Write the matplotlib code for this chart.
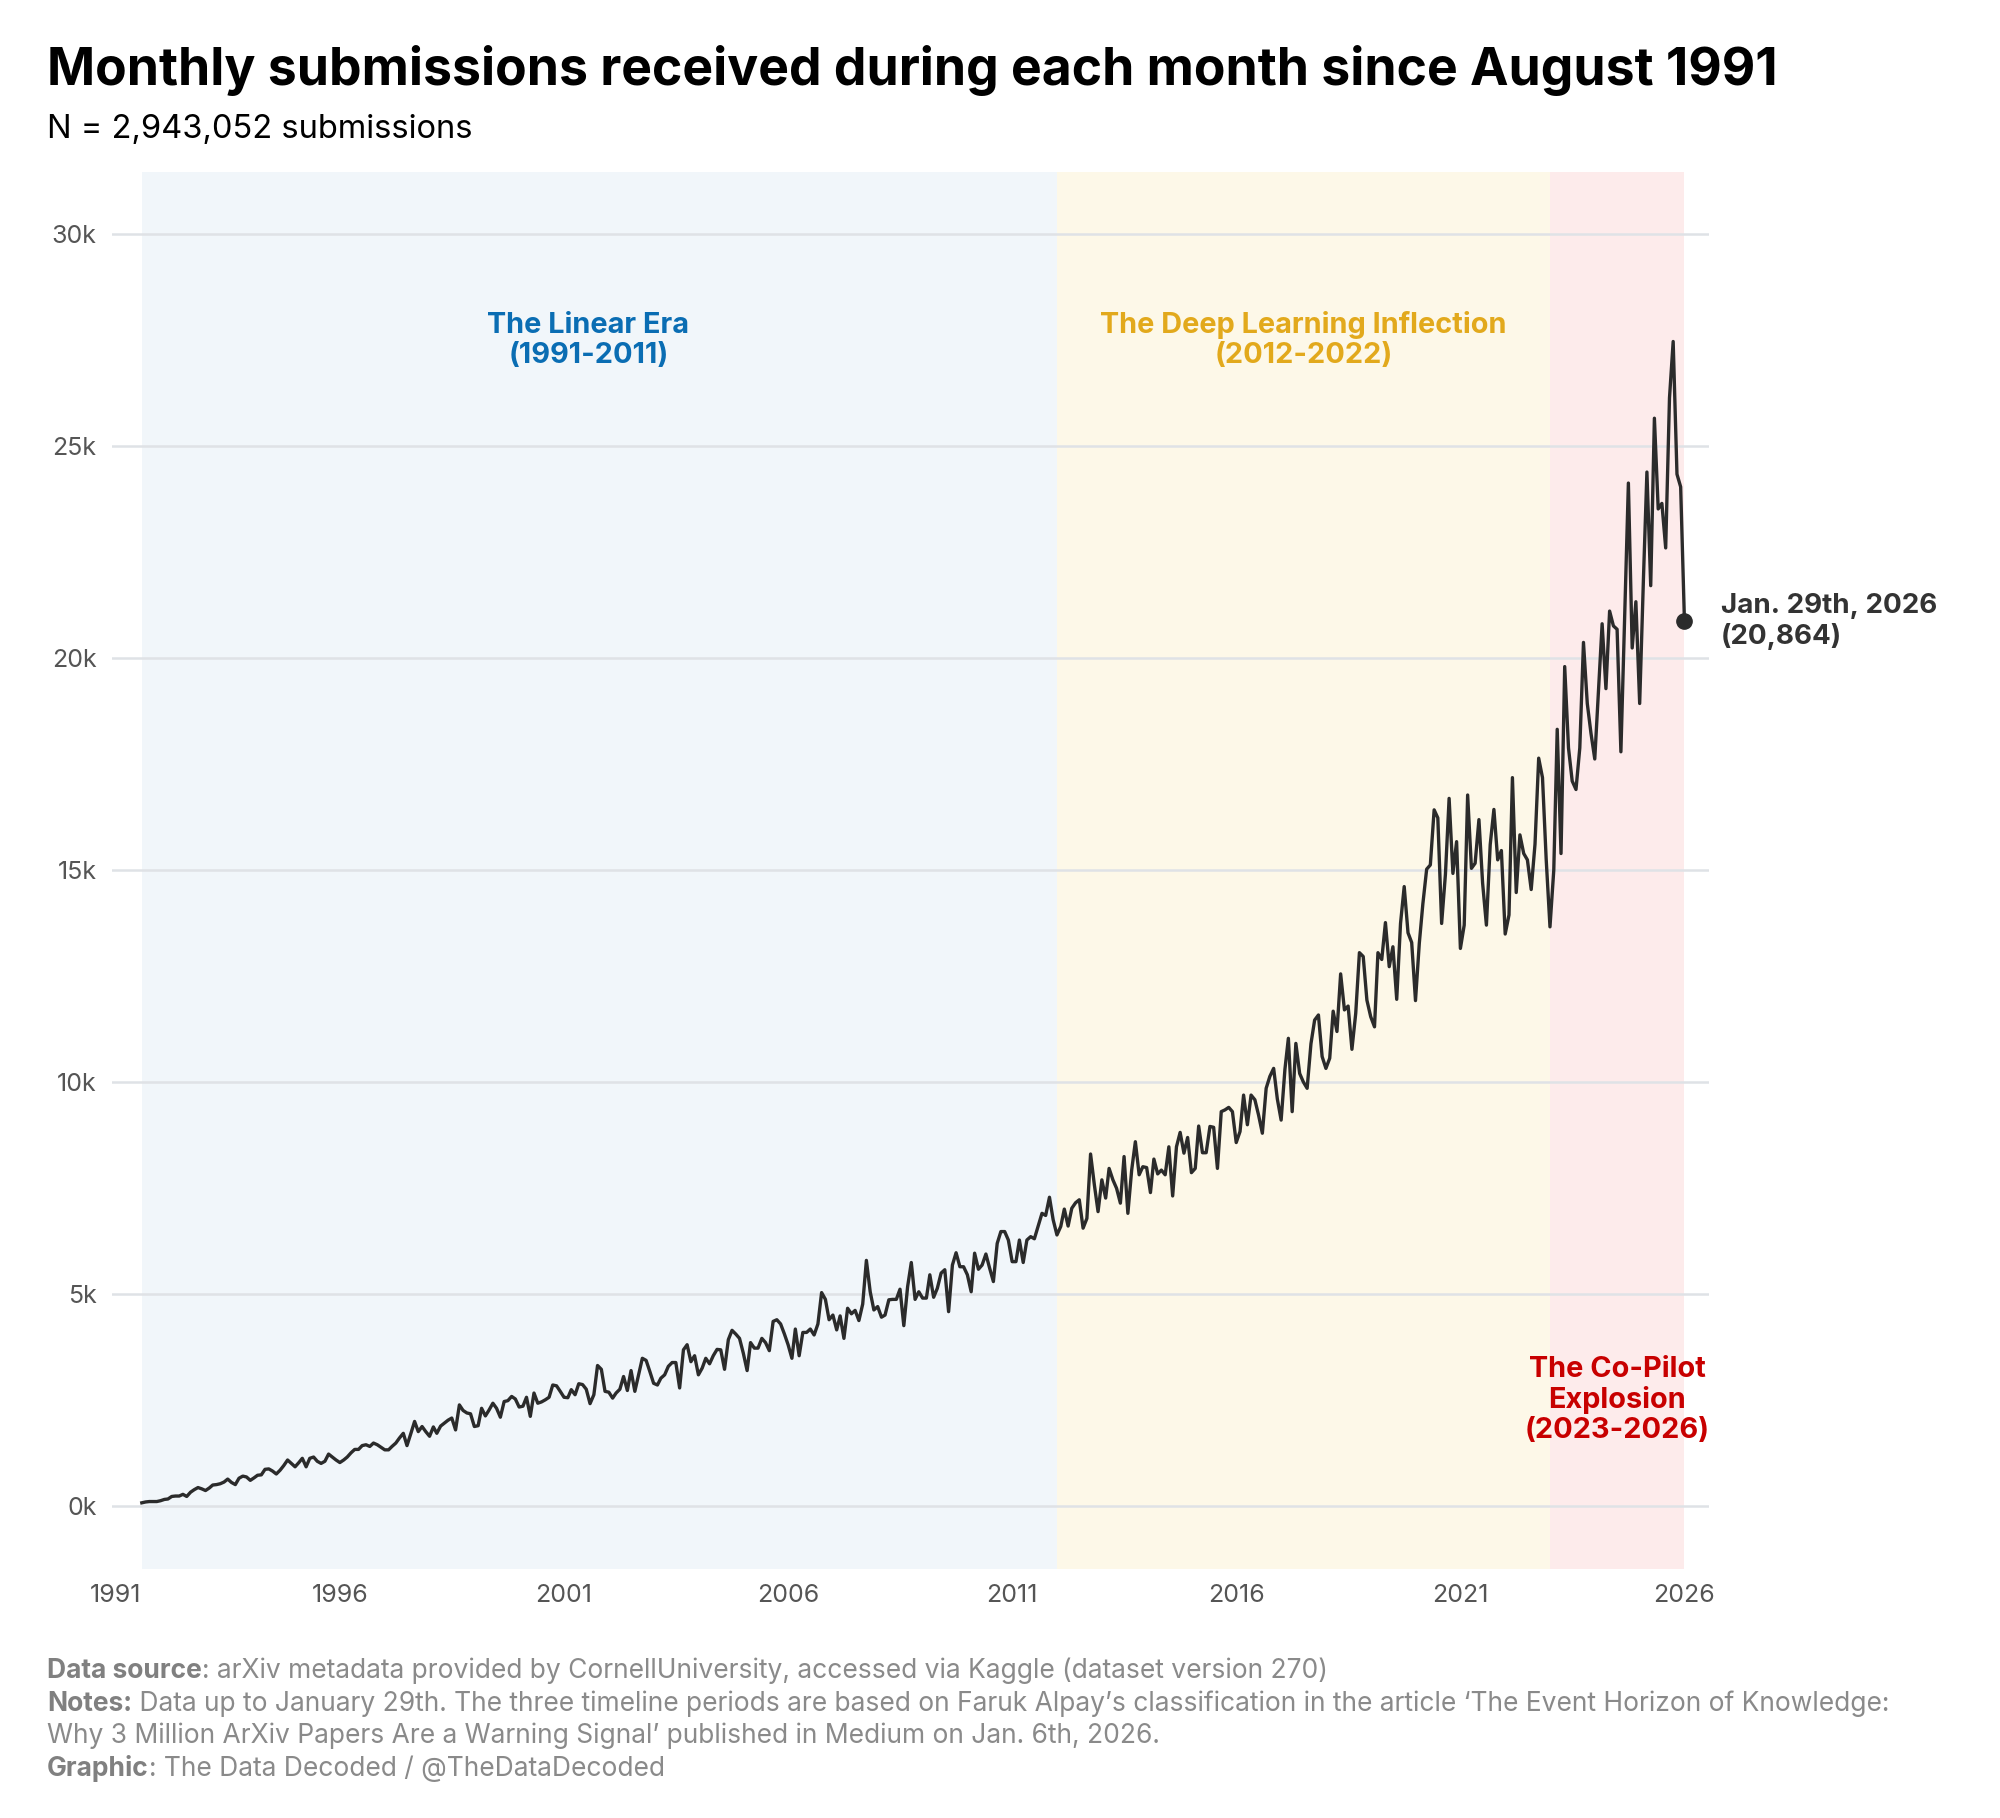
import matplotlib
matplotlib.use('AGG')
import matplotlib.pyplot as plt
import numpy as np
import pandas as pd

plt.rcParams['font.family'] = ['Inter', 'DejaVu Sans']

# monthly submissions, one row per year
linear_era = [
    70, 90, 100, 100, 100,  # 1991 Aug-Dec
    120, 150, 160, 220, 230, 230, 270, 220, 320, 380, 430, 400,
    360, 420, 490, 500, 520, 560, 630, 550, 500, 650, 700, 680,
    600, 660, 720, 730, 860, 870, 820, 750, 840, 950, 1080, 1000,
    920, 1020, 1120, 920, 1120, 1150, 1050, 1000, 1050, 1220, 1150, 1080,
    1020, 1080, 1150, 1250, 1330, 1330, 1420, 1440, 1400, 1480, 1440, 1380,
    1320, 1320, 1400, 1480, 1600, 1710, 1420, 1700, 1990, 1750, 1870, 1750,
    1640, 1860, 1710, 1880, 1950, 2020, 2070, 1790, 2380, 2250, 2190, 2170,
    1870, 1890, 2300, 2120, 2260, 2420, 2300, 2090, 2460, 2480, 2580, 2520,
    2330, 2350, 2560, 2110, 2660, 2420, 2450, 2500, 2560, 2850, 2830, 2700,
    2560, 2550, 2740, 2620, 2880, 2860, 2750, 2410, 2620, 3310, 3220, 2700,
    2680, 2540, 2660, 2750, 3050, 2720, 3190, 2700, 3100, 3480, 3430, 3170,
    2890, 2850, 3010, 3090, 3290, 3380, 3380, 2780, 3680, 3800, 3400, 3540,
    3090, 3250, 3480, 3350, 3540, 3690, 3680, 3220, 3920, 4140, 4050, 3950,
    3600, 3190, 3850, 3720, 3720, 3950, 3850, 3660, 4350, 4390, 4290, 4060,
    3800, 3480, 4170, 3540, 4090, 4090, 4170, 4030, 4290, 5030, 4870, 4390,
    4500, 4150, 4480, 3950, 4660, 4530, 4610, 4370, 4760, 5790, 5050, 4620,
    4700, 4450, 4500, 4860, 4870, 4870, 5110, 4250, 5170, 5740, 4870, 5050,
    4900, 4900, 5450, 4920, 5130, 5490, 5570, 4580, 5680, 5970, 5640, 5640,
    5450, 5050, 5960, 5580, 5680, 5940, 5610, 5290, 6190, 6470, 6470, 6270,
    5760, 5760, 6270, 5740, 6270, 6350, 6300, 6600, 6900, 6850, 7280, 6750,  # 2011
]
deep_learning_era = [
    6390, 6590, 7000, 6600, 7020, 7150, 7220, 6550, 6780, 8300, 7570, 6940,  # 2012
    7690, 7260, 7960, 7690, 7490, 7140, 8240, 6900, 7920, 8590, 7810, 8000,
    7980, 7390, 8180, 7830, 7920, 7810, 8470, 7310, 8470, 8810, 8320, 8690,
    7860, 7960, 8960, 8330, 8330, 8950, 8930, 7960, 9300, 9340, 9400, 9300,
    8570, 8830, 9690, 8990, 9690, 9580, 9220, 8790, 9850, 10130, 10320, 9600,
    9100, 10300, 11030, 9300, 10910, 10200, 10000, 9850, 10900, 11460, 11580, 10600,
    10320, 10560, 11670, 11190, 12550, 11700, 11790, 10770, 11620, 13050, 12960, 11930,
    11540, 11300, 13050, 12890, 13760, 12720, 13190, 11950, 13740, 14610, 13520, 13290,
    11920, 13270, 14200, 15020, 15120, 16420, 16230, 13740, 14900, 16690, 14920, 15670,
    13150, 13700, 16770, 15040, 15160, 16190, 14690, 13700, 15600, 16430, 15240, 15460,
    13490, 13940, 17180, 14470, 15830, 15390, 15240, 14540, 15610, 17640, 17180, 15260,  # 2022
]
copilot_era = [
    13660, 15000, 18320, 15390, 19800, 17880, 17100, 16900, 17880, 20370, 18930, 18230,  # 2023
    17620, 19280, 20810, 19280, 21110, 20760, 20680, 17790, 21030, 24130, 20240, 21330,
    18930, 21900, 24390, 21710, 25660, 23520, 23650, 22600, 26140, 27470, 24340, 24040,
    20864,  # 2026 Jan (to the 29th)
]

first_month = '1991-08-01'
total_submissions = 2943052
era_labels = ['The Linear Era\n(1991-2011)',
              'The Deep Learning Inflection\n(2012-2022)',
              'The Co-Pilot\nExplosion\n(2023-2026)']
era_starts = ['1991-08-01', '2012-01-01', '2023-01-01']
era_ends = ['2012-01-01', '2023-01-01', '2026-01-01']
era_text_colors = ['#0a6db3', '#e2a91c', '#c80000']
era_fill_colors = ['#f1f6fa', '#fdf8e8', '#fdebeb']
era_label_y = [27500, 27500, 2500]
era_label_dx = [-8, 0, 0]  # points
y_ticks = [0, 5000, 10000, 15000, 20000, 25000, 30000]
x_tick_years = [1991, 1996, 2001, 2006, 2011, 2016, 2021, 2026]

footer = [
    ('Data source', ': arXiv metadata provided by CornellUniversity, accessed via Kaggle (dataset version 270)'),
    ('Notes:', ' Data up to January 29th. The three timeline periods are based on Faruk Alpay\u2019s classification in the article \u2018The Event Horizon of Knowledge:'),
    ('', 'Why 3 Million ArXiv Papers Are a Warning Signal\u2019 published in Medium on Jan. 6th, 2026.'),
    ('Graphic', ': The Data Decoded / @TheDataDecoded'),
]

counts = np.array(linear_era + deep_learning_era + copilot_era)
months = pd.date_range(first_month, periods=len(counts), freq='MS')

fig = plt.figure(figsize=(20, 18.18), dpi=100)
ax = fig.add_axes([0.056, 0.137, 0.7985, 0.7684])

for s, e, c in zip(era_starts, era_ends, era_fill_colors):
    ax.axvspan(pd.Timestamp(s), pd.Timestamp(e), color=c, lw=0, zorder=0)

for y in y_ticks:
    ax.axhline(y, color='#dfe2e6', lw=1.8, zorder=1)

ax.plot(months, counts, color='#2b2b2b', lw=2.4, zorder=3)
ax.plot(months[-1:], counts[-1:], 'o', ms=11, color='#2b2b2b', zorder=4)
ax.annotate(f'Jan. 29th, {months[-1].year}\n({counts[-1]:,})',
            xy=(months[-1], counts[-1]), xytext=(26, 0), textcoords='offset points',
            ha='left', va='center', fontsize=20, fontweight='bold', color='#333333',
            linespacing=1.15, annotation_clip=False)

for lab, s, e, c, y, dx in zip(era_labels, era_starts, era_ends, era_text_colors, era_label_y, era_label_dx):
    mid = pd.Timestamp(s) + (pd.Timestamp(e) - pd.Timestamp(s)) / 2
    ax.annotate(lab, xy=(mid, y), xytext=(dx, 0), textcoords='offset points',
                ha='center', va='center', fontsize=20.8, fontweight='bold',
                color=c, linespacing=1.15, zorder=5)

ax.set_xlim(pd.Timestamp('1990-12-01'), pd.Timestamp('2026-07-20'))
ax.set_ylim(-1490, 31470)
ax.set_yticks(y_ticks, [f'{v // 1000}k' for v in y_ticks])
ax.set_xticks([pd.Timestamp(f'{y}-01-01') for y in x_tick_years], [str(y) for y in x_tick_years])
ax.tick_params(axis='both', length=0, labelsize=18, colors='#555555')
ax.tick_params(axis='y', pad=11)
ax.tick_params(axis='x', pad=11)
for sp in ax.spines.values():
    sp.set_visible(False)
ax.set_facecolor('none')

fig.text(0.0235, 1 - 70 / 1818, 'Monthly submissions received during each month since August 1991',
         fontsize=37.2, fontweight='bold', color='black', va='center')
fig.text(0.0235, 1 - 130 / 1818, f'N = {total_submissions:,} submissions',
         fontsize=23.5, color='black', va='center')

fig.canvas.draw()
renderer = fig.canvas.get_renderer()
for i, (bold, rest) in enumerate(footer):
    y = 1 - (1678 + i * 32.7) / 1818
    x = 0.0235
    if bold:
        t = fig.text(x, y, bold, fontsize=19, fontweight='bold', color='#808080', va='baseline')
        x = t.get_window_extent(renderer).x1 / fig.bbox.width
    fig.text(x, y, rest, fontsize=19, color='#8a8a8a', va='baseline')

plt.savefig('out.png', dpi=100)
